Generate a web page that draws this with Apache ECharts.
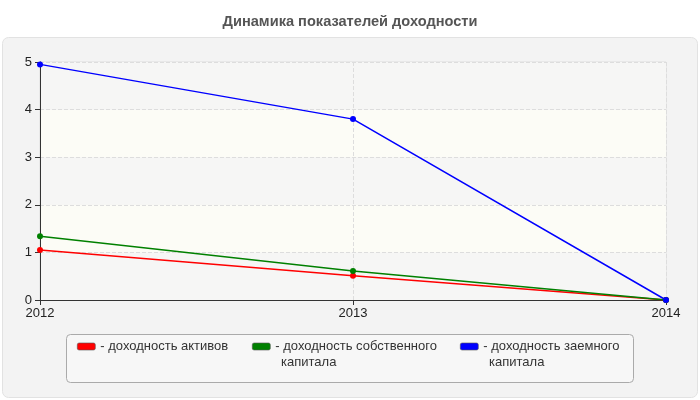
<!DOCTYPE html>
<html>
<head>
<meta charset="utf-8">
<script src="https://cdn.jsdelivr.net/npm/echarts@6/dist/echarts.min.js"></script>
<style>
  html, body { margin: 0; padding: 0; background: #fff; }
  #chart { width: 700px; height: 400px; }
</style>
</head>
<body>
<div id="chart"></div>
<script>
var years = ['2012', '2013', '2014'];
var names = ['доходность активов', 'доходность собственного капитала', 'доходность заемного капитала'];
var firstLines = ['- доходность активов', '- доходность собственного', '- доходность заемного'];
var secondLines = ['', 'капитала', 'капитала'];
var colors = ['#ff0000', '#008000', '#0000ff'];
var assets = [1.05, 0.51, 0];
var equity = [1.34, 0.61, 0];
var debt = [4.95, 3.8, 0];
var yTicks = [0, 1, 2, 3, 4, 5];

var myChart = echarts.init(document.getElementById('chart'));
var values = [assets, equity, debt];
var legendLeft = [77, 252, 460];
var font = 'Liberation Sans';

var series = [];
var legends = [];
var graphics = [
    {
        type: 'rect', z: -10,
        shape: { x: 2.5, y: 37.5, width: 695, height: 360, r: 6 },
        style: { fill: '#f3f3f3', stroke: '#e2e2e2', lineWidth: 1 }
    },
    {
        type: 'rect', z: -9,
        shape: { x: 66.5, y: 334.5, width: 567, height: 48, r: 4 },
        style: { fill: '#f7f7f7', stroke: '#aaaaaa', lineWidth: 1 }
    }
];
for (var i = 0; i < names.length; i++) {
    series.push({
        name: names[i],
        type: 'line',
        data: values[i],
        color: colors[i],
        symbol: 'circle',
        symbolSize: 6,
        lineStyle: { width: 1.5 },
        animation: false
    });
    legends.push({
        data: [names[i]],
        left: legendLeft[i],
        top: 340,
        padding: 0,
        itemWidth: 18,
        itemHeight: 7,
        icon: 'roundRect',
        itemStyle: { borderColor: '#555', borderWidth: 0.6 },
        formatter: (function (t) { return function () { return t; }; })(firstLines[i]),
        textStyle: { fontFamily: font, fontSize: 13, color: '#333' }
    });
    if (secondLines[i]) {
        graphics.push({
            type: 'text',
            x: legendLeft[i] + 29,
            y: 362,
            style: { text: secondLines[i], font: '13px "Liberation Sans"', fill: '#333', verticalAlign: 'middle' }
        });
    }
}

var option = {
    animation: false,
    title: {
        text: 'Динамика показателей доходности',
        left: 'center',
        top: 9,
        textStyle: { fontFamily: font, fontSize: 14.6, fontWeight: 'bold', color: '#555' }
    },
    graphic: graphics,
    legend: legends,
    grid: {
        left: 40, right: 34, top: 62, bottom: 100,
        show: true, borderColor: '#dddddd', borderWidth: 1, backgroundColor: 'transparent'
    },
    xAxis: {
        type: 'category',
        data: years,
        boundaryGap: false,
        axisLine: { lineStyle: { color: '#333' } },
        axisTick: { show: true, alignWithLabel: true, length: 5, lineStyle: { color: '#333' } },
        axisLabel: { fontFamily: font, fontSize: 13, color: '#222', margin: 7 },
        splitLine: { show: true, lineStyle: { color: '#dddddd', type: 'dashed' } }
    },
    yAxis: {
        type: 'value',
        min: yTicks[0],
        max: yTicks[yTicks.length - 1],
        interval: 1,
        axisLine: { show: true, lineStyle: { color: '#333' } },
        axisTick: { show: true, length: 5, lineStyle: { color: '#333' } },
        axisLabel: { fontFamily: font, fontSize: 13, color: '#222', margin: 8 },
        splitLine: { show: true, lineStyle: { color: '#dddddd', type: 'dashed' } },
        splitArea: { show: true, areaStyle: { color: ['#f6f6f5', '#fcfcf6'] } }
    },
    series: series
};
myChart.setOption(option);
</script>
</body>
</html>
